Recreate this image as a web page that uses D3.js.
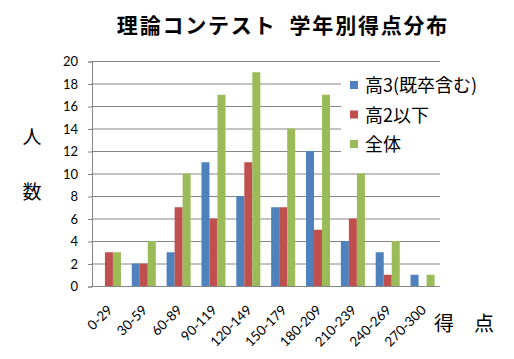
<!DOCTYPE html>
<html><head><meta charset="utf-8">
<script src="https://cdn.jsdelivr.net/npm/d3@7"></script>
<style>body{margin:0;background:#fff}svg{display:block}</style>
</head><body><svg id="c" width="514" height="359"></svg>
<script>
const categories = ["0-29","30-59","60-89","90-119","120-149","150-179","180-209","210-239","240-269","270-300"];
const seriesNames = ["高3(既卒含む)","高2以下","全体"];
const koukou3 = [0,2,3,11,8,7,12,4,3,1];
const kou2ika = [3,2,7,6,11,7,5,6,1,0];
const zentai = [3,4,10,17,19,14,17,10,4,1];
const yTicks = [0,2,4,6,8,10,12,14,16,18,20];
const colors = ["#4F81BD","#C0504D","#9BBB59"];
const series = [koukou3, kou2ika, zentai];

const svg = d3.select("#c");
const jp = "'Noto Sans CJK JP', sans-serif";
const num = "Lato, 'Open Sans', sans-serif";
const L = 91.5, R = 440, T = 61, B = 286;

const x = d3.scaleBand().domain(categories).range([L, R]).paddingInner(0.31).paddingOuter(0.155);
const xs = d3.scaleBand().domain([0,1,2]).range([0, x.bandwidth()]);
const y = d3.scaleLinear().domain([0,20]).range([B, T]);

// gridlines
svg.append("g").selectAll("line").data(yTicks.filter(d=>d>0)).join("line")
  .attr("x1", L).attr("x2", R).attr("y1", d=>y(d)+0.5).attr("y2", d=>y(d)+0.5)
  .attr("stroke", "#868686").attr("stroke-width", 1);

// bars
series.forEach((s, i) => {
  svg.append("g").selectAll("rect").data(s).join("rect")
    .attr("x", (d, j) => x(categories[j]) + xs(i))
    .attr("width", xs.bandwidth())
    .attr("y", d => y(d))
    .attr("height", d => B - y(d))
    .attr("fill", colors[i]);
});

// y axis
const ya = d3.axisLeft(y).tickValues(yTicks).tickSize(4).tickPadding(10);
const gy = svg.append("g").attr("transform", `translate(${L+0.5},0.5)`).call(ya);
gy.select(".domain").attr("stroke", "#868686");
gy.selectAll(".tick line").attr("stroke", "#868686");
gy.selectAll("text").attr("font-family", num).attr("font-size", 13).attr("fill", "#000");

// x axis
const xa = d3.axisBottom(x).tickSize(0).tickPadding(0);
const gx = svg.append("g").attr("transform", `translate(0,${B+0.5})`).call(xa);
gx.select(".domain").attr("stroke", "#868686").attr("d", `M${L},0H${R}`);
gx.selectAll("text").attr("font-family", num).attr("font-size", 13.5).attr("fill", "#000")
  .attr("text-anchor", "end").attr("dy", "0.35em")
  .attr("transform", "translate(1,21) rotate(-45)");

// title
svg.append("text").attr("x", 283).attr("y", 33).attr("text-anchor", "middle")
  .attr("xml:space", "preserve")
  .attr("font-family", jp).attr("font-weight", "bold").attr("font-size", 21)
  .attr("letter-spacing", 1.8)
  .attr("fill", "#000").text("理論コンテスト  学年別得点分布");

// y label
svg.append("text").attr("x", 32).attr("y", 144).attr("text-anchor", "middle")
  .attr("font-family", jp).attr("font-size", 19).text("人");
svg.append("text").attr("x", 32).attr("y", 199).attr("text-anchor", "middle")
  .attr("font-family", jp).attr("font-size", 19).text("数");

// x label
svg.append("text").attr("x", 444).attr("y", 331).attr("text-anchor", "middle")
  .attr("font-family", jp).attr("font-size", 20).text("得");
svg.append("text").attr("x", 484).attr("y", 331).attr("text-anchor", "middle")
  .attr("font-family", jp).attr("font-size", 20).text("点");

// legend
const lg = svg.append("g");
lg.append("rect").attr("x", 341).attr("y", 70).attr("width", 140).attr("height", 88).attr("fill", "#fff");
seriesNames.forEach((n, i) => {
  const yy = 85 + i * 29.5;
  lg.append("rect").attr("x", 350).attr("y", yy - 4).attr("width", 8).attr("height", 8).attr("fill", colors[i]);
  lg.append("text").attr("x", 365).attr("y", yy + 7).attr("font-family", jp).attr("font-size", 18).attr("fill","#000").text(n);
});
</script></body></html>
